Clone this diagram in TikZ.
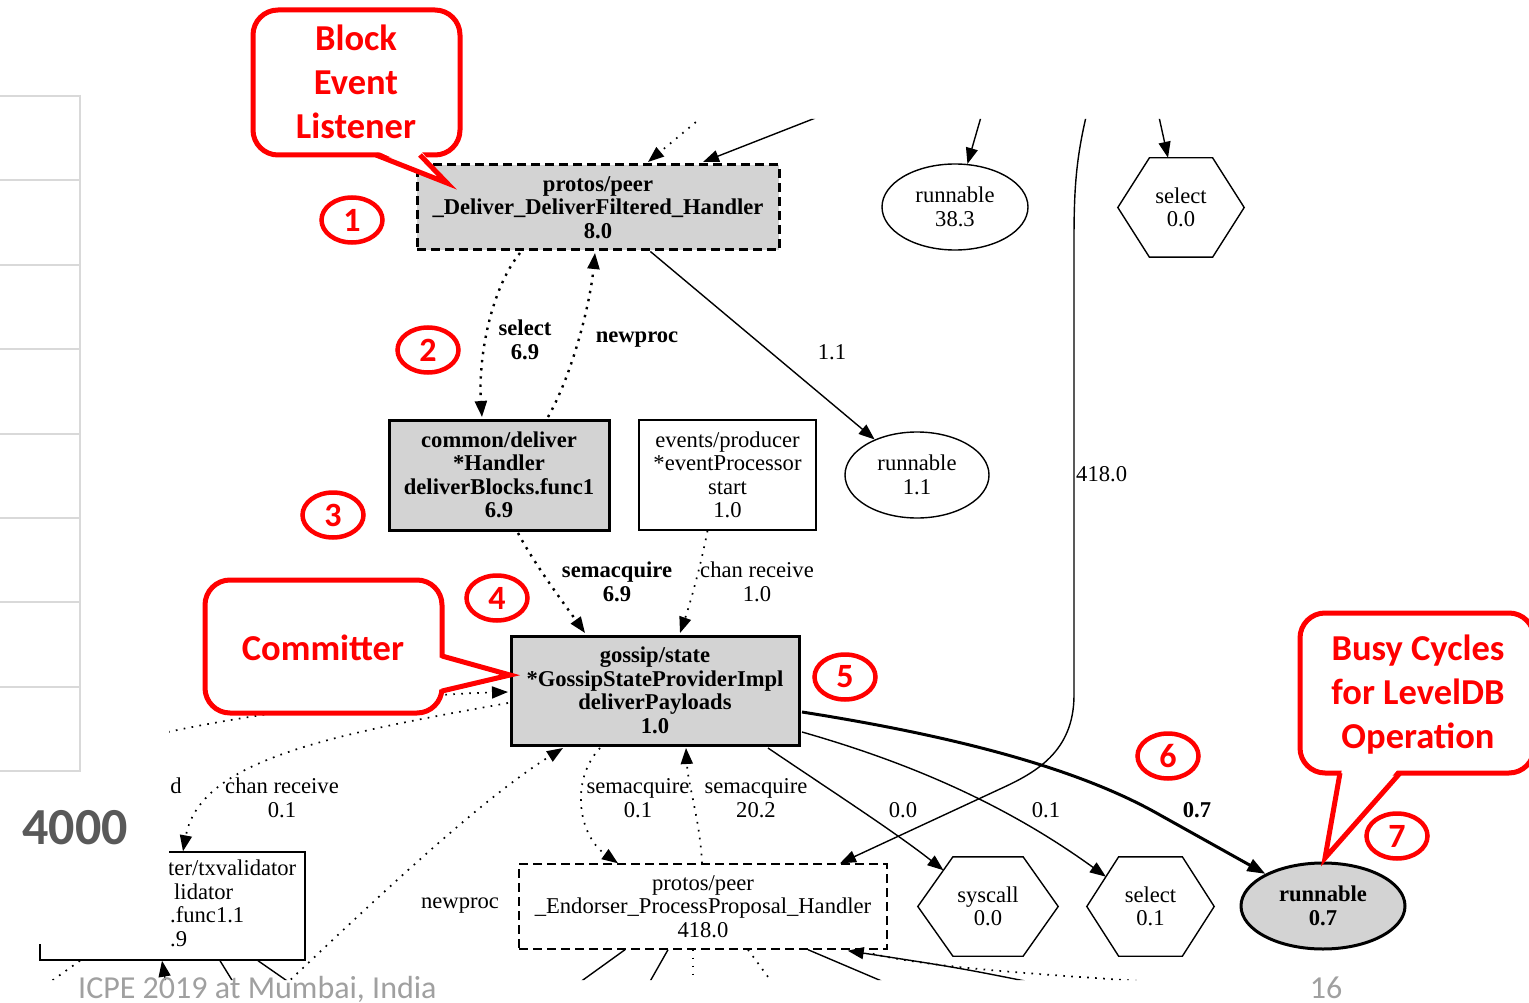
\documentclass[tikz,border=0pt]{standalone}
\usepackage{fontspec}
\setmainfont{Liberation Serif}
\newfontfamily\calibri{Carlito}
\usetikzlibrary{shapes.geometric,arrows.meta,calc}
\definecolor{boxgray}{HTML}{D3D3D3}
\definecolor{tablegray}{HTML}{D9D9D9}
\definecolor{numgray}{HTML}{595959}
\definecolor{footgray}{HTML}{A0A0A0}
\definecolor{callred}{HTML}{FF0000}

% hexagon outline drawn on the bounding box of a node, with corner coordinates
\newcommand\hexframe[1]{%
  \coordinate (#1-tl) at ($(#1.north west)!0.25!(#1.north east)$);
  \coordinate (#1-tr) at ($(#1.north west)!0.75!(#1.north east)$);
  \coordinate (#1-bl) at ($(#1.south west)!0.25!(#1.south east)$);
  \coordinate (#1-br) at ($(#1.south west)!0.75!(#1.south east)$);
  \draw[line width=1.4pt] (#1.west) -- (#1-tl) -- (#1-tr) -- (#1.east) -- (#1-br) -- (#1-bl) -- cycle;}

\begin{document}
\begin{tikzpicture}[x=1pt,y=-1pt,
  gfont/.style={font=\fontsize{22.6}{23.5}\selectfont},
  gbold/.style={font=\fontsize{22.6}{23.5}\selectfont\bfseries},
  fnbox/.style={gfont, align=center, inner sep=0pt, draw, rectangle, line width=1.4pt},
  hotbox/.style={fnbox, gbold, fill=boxgray, line width=3pt},
  dashbox/.style={dash pattern=on 9pt off 5pt},
  oval/.style={gfont, align=center, inner sep=0pt, draw, ellipse, line width=1.4pt},
  hexcell/.style={gfont, align=center, inner sep=0pt, rectangle},
  gtip/.style={-{Triangle[length=16pt,width=12pt]}},
  wire/.style={line width=1.4pt},
  dotwire/.style={line width=1.7pt, dash pattern=on 1.7pt off 6.3pt},
  heavydots/.style={line width=2.4pt, dash pattern=on 2.4pt off 5.8pt},
  elabel/.style={gfont, align=center, inner sep=0pt},
  blabel/.style={gbold, align=center, inner sep=0pt},
  callout/.style={draw=callred, line width=5pt, fill=white, rounded corners=25pt},
  pointer/.style={draw=callred, line width=5pt, line join=miter},
  calltext/.style={font=\calibri\bfseries\fontsize{36.5}{44}\selectfont, text=callred, align=center, inner sep=0pt},
  numring/.style={draw=callred, line width=4.5pt, ellipse, minimum width=61pt, minimum height=45pt,
    inner sep=0pt, text=callred, font=\calibri\bfseries\fontsize{34}{34}\selectfont}
]
\useasboundingbox (0,0) rectangle (1529,1003);

% ---------------- call graph (visible window) ----------------
\begin{scope}
\clip (169,119) -- (1529,119) -- (1529,980) -- (38,980) -- (38,944) -- (169,944) -- cycle;

% nodes
\node[hotbox, dashbox, minimum width=362pt, minimum height=85pt] (deliver) at (598,207.5)
  {protos/peer\\\_Deliver\_DeliverFiltered\_Handler\\8.0};
\node[hotbox, minimum width=220pt, minimum height=110pt] (blocks) at (499,475)
  {common/deliver\\*Handler\\deliverBlocks.func1\\6.9};
\node[fnbox, minimum width=177pt, minimum height=110pt] (producer) at (727.5,475)
  {events/producer\\*eventProcessor\\start\\1.0};
\node[hotbox, minimum width=288pt, minimum height=109pt] (gossip) at (655,690.5)
  {gossip/state\\*GossipStateProviderImpl\\deliverPayloads\\1.0};
\node[fnbox, dashbox, minimum width=368pt, minimum height=85pt] (endorser) at (703,906.5)
  {protos/peer\\\_Endorser\_ProcessProposal\_Handler\\418.0};
\node[fnbox, minimum width=265pt, minimum height=108pt] (txval) at (172.5,906) {};
\node[elabel, anchor=base west] (txa) at (168,875) {ter/txvalidator};
\node[elabel, anchor=base west] (txb) at (174,899) {lidator};
\node[elabel, anchor=base west] (txc) at (170,922) {.func1.1};
\node[elabel, anchor=base west] (txd) at (170,946) {.9};

\node[oval, minimum width=146pt, minimum height=86pt] (run38) at (955,207) {runnable\\38.3};
\node[oval, minimum width=144pt, minimum height=86pt] (run11) at (917,475) {runnable\\1.1};
\node[oval, gbold, fill=boxgray, line width=3pt, minimum width=164pt, minimum height=86pt] (run07) at (1323,906) {runnable\\0.7};

\node[hexcell, minimum width=126pt, minimum height=99pt] (sel00) at (1181,207.5) {select\\0.0};
\node[hexcell, minimum width=140pt, minimum height=99pt] (sysc) at (988,906.5) {syscall\\0.0};
\node[hexcell, minimum width=127pt, minimum height=99pt] (sel01) at (1150.5,906.5) {select\\0.1};
\hexframe{sel00}
\hexframe{sysc}
\hexframe{sel01}

% edges entering from above
\coordinate (inA) at (702,117);
\coordinate (inB) at (818,117);
\coordinate (inC) at (981,117);
\coordinate (inD) at (1159,117);
\coordinate (inE) at (1086,117);
\draw[dotwire, gtip] (inA) -- ($(deliver.north)+(50,-1.5)$);
\draw[wire, gtip] (inB) -- ($(deliver.north)+(105,-1.5)$);
\draw[wire, gtip] (inC) -- (run38);
\draw[wire, gtip] (inD) -- ($(sel00.north)+(-13,0)$);
\draw[wire, gtip] (inE) .. controls (1076,160) and (1074,190) .. (1074,240) -- (1074,695)
  .. controls (1074,752) and (1035,773) .. (1000,789) -- ($(endorser.north)+(137,0)$);
\node[elabel, anchor=west] (w418) at (1076,474) {418.0};

% deliver handler <-> deliverBlocks
\draw[heavydots, gtip] ($(deliver.south)+(-78,1.5)$) .. controls (490,290) and (478,360) .. ($(blocks.north)+(-17,-1.5)$);
\node[blabel] (wsel) at (525,340) {select\\6.9};
\draw[heavydots, gtip] ($(blocks.north)+(49,-1.5)$) .. controls (572,375) and (590,305) .. ($(deliver.south)+(-3,1.5)$);
\node[blabel] (wnew) at (637,340) {newproc};
\draw[wire, gtip] (deliver) -- (run11);
\node[elabel] (w11) at (832,352) {1.1};

% into deliverPayloads
\draw[heavydots, gtip] ($(blocks.south)+(19,1.5)$) .. controls (535,565) and (565,605) .. ($(gossip.north)+(-70,-1.5)$);
\node[blabel] (wsem) at (617,582) {semacquire\\6.9};
\draw[dotwire, gtip] ($(producer.south)+(-20,0)$) .. controls (700,570) and (688,610) .. ($(gossip.north)+(25,-1.5)$);
\node[elabel] (wchan) at (757,582) {chan receive\\1.0};

% out of deliverPayloads
\draw[line width=3pt, -{Triangle[length=18pt,width=13pt]}] ($(gossip.east)+(1.5,21.5)$)
  .. controls (980,740) and (1090,775) .. (1160,815) -- (run07);
\node[blabel] (w07) at (1197,810) {0.7};
\draw[wire, gtip] ($(gossip.east)+(1.5,41.5)$) .. controls (900,760) and (1000,800) .. ($(sel01.west)!0.6!(sel01-tl)$);
\node[elabel] (w01) at (1046,810) {0.1};
\draw[wire, gtip] ($(gossip.south)+(113,1.5)$) .. controls (830,790) and (895,832) .. ($(sysc.west)!0.73!(sysc-tl)$);
\node[elabel] (w00) at (903,810) {0.0};

% deliverPayloads <-> endorser
\draw[dotwire, gtip] ($(gossip.south)+(-55,1.5)$) .. controls (570,780) and (578,835) .. ($(endorser.north)+(-85,0)$);
\node[elabel] (wsa) at (638,798) {semacquire\\0.1};
\draw[dotwire, gtip] ($(endorser.north)+(-1,0)$) .. controls (700,820) and (688,785) .. ($(gossip.south)+(31,1.5)$);
\node[elabel] (wsb) at (756,798) {semacquire\\20.2};

% edges on the left side
\coordinate (inF) at (285,985);
\draw[dotwire, gtip] (inF) .. controls (380,895) and (480,800) .. ($(gossip.south)+(-92,1.5)$);
\node[elabel] (wnp) at (460,906) {newproc};
\coordinate (inG) at (168,732);
\draw[dotwire, gtip] (inG) .. controls (260,712) and (400,695) .. ($(gossip.west)+(-1.5,1.5)$);
\draw[dotwire, gtip] ($(gossip.west)+(-1.5,12.5)$) .. controls (330,735) and (200,760) .. ($(txval.north)+(10.5,0)$);
\node[elabel] (wcr) at (282,798) {chan receive\\0.1};
\node[elabel] (wd) at (176,786) {d};

% edges leaving through the bottom
\coordinate (inH) at (166,985);
\coordinate (outA) at (235,985);
\coordinate (outB) at (293,985);
\coordinate (outC) at (46,985);
\draw[wire, gtip] (inH) -- ($(txval.south)+(-10.5,0)$);
\draw[wire] ($(txval.south)+(47.5,0)$) -- (outA);
\draw[wire] ($(txval.south)+(85.5,0)$) -- (outB);
\draw[dotwire] ($(txval.south)+(-92.5,0)$) -- (outC);

\coordinate (outD) at (576,985);
\coordinate (outE) at (648,985);
\coordinate (outF) at (693,985);
\coordinate (outG) at (774,985);
\coordinate (outH) at (891,985);
\coordinate (inI) at (1045,985);
\coordinate (outI) at (1170,983);
\draw[wire] ($(endorser.south)+(-78,0)$) -- (outD);
\draw[wire] ($(endorser.south)+(-35,0)$) -- (outE);
\draw[dotwire] ($(endorser.south)+(-10,0)$) -- (outF);
\draw[dotwire] ($(endorser.south)+(45,0)$) -- (outG);
\draw[wire] ($(endorser.south)+(105,0)$) -- (outH);
\draw[wire, gtip] (inI) .. controls (960,968) .. ($(endorser.south east)+(-40,1)$);
\draw[dotwire] ($(endorser.south east)+(-15,4)$) .. controls (930,968) and (1050,975) .. (outI);
\end{scope}

% ---------------- slide background parts ----------------
\foreach \yy in {96,180.5,265,349,433.5,518,602,687,771}
  \draw[tablegray, line width=2pt] (0,\yy) -- (80,\yy);
\draw[tablegray, line width=2pt] (80,95) -- (80,772);
\node[font=\calibri\bfseries\fontsize{52}{52}\selectfont, text=numgray, inner sep=0pt] (axisval) at (75,828) {4000};
\node[font=\calibri\fontsize{32}{32}\selectfont, text=footgray, inner sep=0pt, anchor=base west] (footer) at (78,998) {ICPE 2019 at Mumbai, India};
\node[font=\calibri\fontsize{32}{32}\selectfont, text=footgray, inner sep=0pt, anchor=base] (pageno) at (1326,998) {16};

% ---------------- callouts ----------------
\draw[callout] (253,10) rectangle (460,155);
\fill[white] (377,151) -- (421,151) -- (447,183) -- cycle;
\draw[pointer] (376,155) -- (447,183) -- (420,155);
\node[calltext] (blocktxt) at (356,82) {Block\\Event\\Listener};

\draw[callout] (205,580) rectangle (442,713);
\fill[white] (437,657) -- (437,690) -- (510,675) -- cycle;
\draw[pointer] (442,656) -- (510,675) -- (442,691);
\node[calltext] (committxt) at (323,648) {Committer};

\draw[callout] (1300,613) rectangle (1534,773);
\fill[white] (1342,769) -- (1398,769) -- (1325,858) -- cycle;
\draw[pointer] (1340,773) -- (1325,858) -- (1400,773);
\node[calltext] (busytxt) at (1418,695) {Busy Cycles\\for LevelDB\\Operation};

% ---------------- step markers ----------------
\node[numring] (m1) at (352,220) {1};
\node[numring] (m2) at (428,350) {2};
\node[numring] (m3) at (333,515) {3};
\node[numring] (m4) at (497,598) {4};
\node[numring] (m5) at (845,677) {5};
\node[numring] (m6) at (1168,756) {6};
\node[numring] (m7) at (1397,836) {7};
\end{tikzpicture}
\end{document}
